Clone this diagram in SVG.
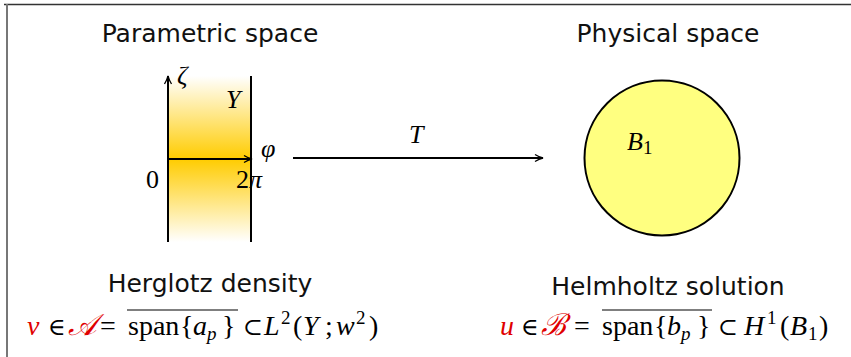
<svg xmlns="http://www.w3.org/2000/svg" width="851" height="357" viewBox="0 0 851 357">
<defs>
<linearGradient id="strip" x1="0" y1="0" x2="0" y2="1">
<stop offset="0" stop-color="#ffffff"/>
<stop offset="0.5" stop-color="#ffcc00"/>
<stop offset="1" stop-color="#ffffff"/>
</linearGradient>
<marker id="arr" markerWidth="10" markerHeight="10" refX="9" refY="5" orient="auto" markerUnits="userSpaceOnUse">
<path d="M1,1.5 Q5,4 9,5 Q5,6 1,8.5" fill="none" stroke="#000" stroke-width="1.3"/>
</marker>
<style>
.lbl{font-family:"DejaVu Sans","Liberation Sans",sans-serif;font-size:25px;fill:#111;text-anchor:middle}
.m{font-family:"Liberation Serif","DejaVu Serif",serif;font-size:26px;fill:#000}
.f{font-size:28px}
.i{font-style:italic}
.n{font-style:normal}
.red{fill:#e00000}
.sm{font-size:19px}
.op{font-size:24px}
.cal{font-size:30px}
.ln{stroke:#000;stroke-width:2;fill:none}
</style>
</defs>
<rect width="851" height="357" fill="#fff"/>
<line x1="4" y1="4.5" x2="851" y2="4.5" stroke="#333" stroke-width="1.5"/>
<line x1="7" y1="4" x2="7" y2="357" stroke="#777" stroke-width="2"/>

<g id="parametric">
<text class="lbl" x="210" y="42">Parametric space</text>
<rect x="168" y="76" width="83" height="166" fill="url(#strip)"/>
<line class="ln" x1="251" y1="76" x2="251" y2="242"/>
<line class="ln" x1="168" y1="242" x2="168" y2="76" marker-end="url(#arr)"/>
<line class="ln" x1="168" y1="159" x2="252" y2="159" marker-end="url(#arr)"/>
<text class="m i" x="177" y="84">ζ</text>
<text class="m i" x="226" y="108">Y</text>
<text class="m i" x="261" y="157">φ</text>
<text class="m" x="146" y="188">0</text>
<text class="m" x="236" y="188">2<tspan class="i">π</tspan></text>
<text class="lbl" x="210" y="292">Herglotz density</text>
</g>

<g id="physical">
<text class="lbl" x="668" y="42">Physical space</text>
<circle cx="662" cy="158" r="77.5" fill="#ffff80" stroke="#000" stroke-width="2"/>
<text class="m i" x="627" y="150">B<tspan class="n sm" dy="4">1</tspan></text>
<text class="lbl" x="668" y="295">Helmholtz solution</text>
</g>

<g id="connectors">
<line class="ln" x1="293" y1="158" x2="543" y2="158" stroke-width="1.5" marker-end="url(#arr)"/>
<text class="m i" x="409" y="143">T</text>
</g>

<g id="formula-left">
<line x1="127" y1="310" x2="238" y2="310" stroke="#000" stroke-width="1.2"/>
<text class="m f" y="335"><tspan class="i red" x="27">v</tspan><tspan class="op" x="48">∈</tspan><tspan class="i red cal" x="68">𝒜</tspan><tspan x="100">=</tspan><tspan x="128">span</tspan><tspan x="180">{</tspan><tspan class="i" x="193">a</tspan><tspan class="i sm" x="207" dy="5">p</tspan><tspan x="222" dy="-5">}</tspan><tspan class="op" x="243">⊂</tspan><tspan class="i" x="264">L</tspan><tspan class="sm" x="281" dy="-11">2</tspan><tspan x="293" dy="11">(</tspan><tspan class="i" x="303">Y</tspan><tspan x="325">;</tspan><tspan class="i" x="336">w</tspan><tspan class="sm" x="356" dy="-11">2</tspan><tspan x="369" dy="11">)</tspan></text>
</g>

<g id="formula-right">
<line x1="602" y1="310" x2="712" y2="310" stroke="#000" stroke-width="1.2"/>
<text class="m f" y="335"><tspan class="i red" x="500">u</tspan><tspan class="op" x="521">∈</tspan><tspan class="i red cal" x="541">ℬ</tspan><tspan x="574">=</tspan><tspan x="602">span</tspan><tspan x="654">{</tspan><tspan class="i" x="667">b</tspan><tspan class="i sm" x="681" dy="5">p</tspan><tspan x="697" dy="-5">}</tspan><tspan class="op" x="718">⊂</tspan><tspan class="i" x="744">H</tspan><tspan class="sm" x="767" dy="-11">1</tspan><tspan x="780" dy="11">(</tspan><tspan class="i" x="790">B</tspan><tspan class="sm" x="808" dy="5">1</tspan><tspan x="819" dy="-5">)</tspan></text>
</g>
</svg>
